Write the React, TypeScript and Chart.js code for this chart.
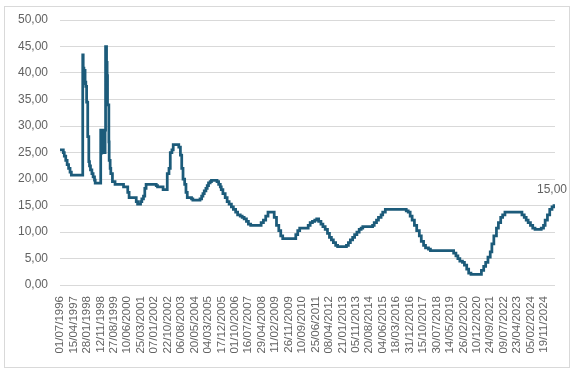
import { useEffect, useRef } from "react";
import { Chart, registerables } from "chart.js";

Chart.register(...registerables);

const rateDates: string[] = [
  "1996-07-01", "1996-09-10", "1996-10-01", "1996-11-01", "1996-12-01", "1997-01-01", "1997-02-01", "1997-03-01",
  "1997-10-31", "1997-11-10", "1997-11-25", "1997-12-05", "1997-12-20", "1998-01-05", "1998-01-22", "1998-02-15",
  "1998-03-10", "1998-03-25", "1998-04-15", "1998-05-15", "1998-06-10", "1998-07-10", "1998-07-25",
  "1998-11-20", "1998-12-01", "1998-12-12", "1998-12-24", "1999-01-05", "1999-01-17", "1999-01-29", "1999-02-10", "1999-02-22",
  "1999-03-04", "1999-03-25", "1999-04-06", "1999-04-15", "1999-05-13", "1999-05-20", "1999-06-10", "1999-06-24",
  "1999-07-29", "1999-09-23", "2000-03-23", "2000-06-21", "2000-07-20", "2000-12-20", "2001-01-18", "2001-03-22",
  "2001-04-19", "2001-05-24", "2001-06-21", "2001-07-19", "2002-02-21", "2002-03-21", "2002-07-18", "2002-10-15",
  "2002-11-21", "2002-12-19", "2003-01-23", "2003-02-20", "2003-06-19", "2003-07-24", "2003-08-21", "2003-09-18",
  "2003-10-23", "2003-11-20", "2003-12-18", "2004-03-18", "2004-04-15", "2004-09-16", "2004-10-21", "2004-11-18",
  "2004-12-16", "2005-01-20", "2005-02-17", "2005-03-17", "2005-04-21", "2005-05-19", "2005-09-15", "2005-10-20",
  "2005-11-24", "2005-12-15", "2006-01-19", "2006-03-09", "2006-04-20", "2006-06-01", "2006-07-20", "2006-08-31",
  "2006-10-19", "2006-11-30", "2007-01-25", "2007-03-08", "2007-04-19", "2007-06-07", "2007-07-19", "2007-09-06",
  "2008-04-17", "2008-06-05", "2008-07-24", "2008-09-11", "2009-01-22", "2009-03-12", "2009-04-30", "2009-06-11",
  "2009-07-23", "2010-04-29", "2010-06-10", "2010-07-22", "2011-01-20", "2011-03-03", "2011-04-21", "2011-06-09",
  "2011-07-21", "2011-09-01", "2011-10-20", "2011-12-01", "2012-01-19", "2012-03-08", "2012-04-19", "2012-05-31",
  "2012-07-12", "2012-08-30", "2012-10-11", "2013-04-18", "2013-05-30", "2013-07-11", "2013-08-29", "2013-10-10",
  "2013-11-28", "2014-01-16", "2014-02-27", "2014-04-03", "2014-10-30", "2014-12-04", "2015-01-22", "2015-03-05",
  "2015-04-30", "2015-06-04", "2015-07-30", "2016-10-20", "2016-12-01", "2017-01-12", "2017-02-23", "2017-04-13",
  "2017-06-01", "2017-07-27", "2017-09-07", "2017-10-26", "2017-12-07", "2018-02-08", "2018-03-22", "2019-08-01",
  "2019-09-19", "2019-10-31", "2019-12-12", "2020-02-06", "2020-03-19", "2020-05-07", "2020-06-18", "2020-08-06",
  "2021-03-18", "2021-05-06", "2021-06-17", "2021-08-05", "2021-09-23", "2021-10-28", "2021-12-09", "2022-02-03",
  "2022-03-17", "2022-05-05", "2022-06-16", "2022-08-04", "2023-08-03", "2023-09-21", "2023-11-02", "2023-12-14",
  "2024-02-01", "2024-03-21", "2024-05-09", "2024-09-19", "2024-11-07", "2024-12-12", "2025-01-30", "2025-03-20",
  "2025-05-08", "2025-06-19", "2025-07-11",
];

const rateValues: number[] = [
  25.5, 25.0, 24.3, 23.5, 22.7, 22.0, 21.3, 20.75,
  43.4, 40.9, 38.0, 40.5, 38.3, 37.5, 34.5, 28.0,
  23.3, 22.5, 21.7, 21.0, 20.4, 19.8, 19.2,
  29.2, 24.9, 29.2, 25.0, 29.2, 25.0, 29.2, 25.0, 29.2,
  45.0, 42.0, 39.5, 34.0, 27.0, 23.5, 22.0, 21.0,
  19.5, 19.0, 18.5, 17.5, 16.5, 15.75, 15.25, 15.75,
  16.25, 16.75, 18.25, 19.0, 18.75, 18.5, 18.0, 21.0,
  22.0, 25.0, 25.5, 26.5, 26.0, 24.5, 22.0, 20.0,
  19.0, 17.5, 16.5, 16.25, 16.0, 16.25, 16.75, 17.25,
  17.75, 18.25, 18.75, 19.25, 19.5, 19.75, 19.5, 19.0,
  18.5, 18.0, 17.25, 16.5, 15.75, 15.25, 14.75, 14.25,
  13.75, 13.25, 13.0, 12.75, 12.5, 12.0, 11.5, 11.25,
  11.75, 12.25, 13.0, 13.75, 12.75, 11.25, 10.25, 9.25,
  8.75, 9.5, 10.25, 10.75, 11.25, 11.75, 12.0, 12.25,
  12.5, 12.0, 11.5, 11.0, 10.5, 9.75, 9.0, 8.5,
  8.0, 7.5, 7.25, 7.5, 8.0, 8.5, 9.0, 9.5,
  10.0, 10.5, 10.75, 11.0, 11.25, 11.75, 12.25, 12.75,
  13.25, 13.75, 14.25, 14.0, 13.75, 13.0, 12.25, 11.25,
  10.25, 9.25, 8.25, 7.5, 7.0, 6.75, 6.5, 6.0,
  5.5, 5.0, 4.5, 4.25, 3.75, 3.0, 2.25, 2.0,
  2.75, 3.5, 4.25, 5.25, 6.25, 7.75, 9.25, 10.75,
  11.75, 12.75, 13.25, 13.75, 13.25, 12.75, 12.25, 11.75,
  11.25, 10.75, 10.5, 10.75, 11.25, 12.25, 13.25, 14.25,
  14.75, 15.0, 15.0,
];

const tickLabels: string[] = [
  "01/07/1996", "15/04/1997", "28/01/1998", "12/11/1998", "27/08/1999", "10/06/2000", "25/03/2001",
  "07/01/2002", "22/10/2002", "06/08/2003", "20/05/2004", "04/03/2005", "17/12/2005", "01/10/2006",
  "16/07/2007", "29/04/2008", "11/02/2009", "26/11/2009", "10/09/2010", "25/06/2011", "08/04/2012",
  "21/01/2013", "05/11/2013", "20/08/2014", "04/06/2015", "18/03/2016", "31/12/2016", "15/10/2017",
  "30/07/2018", "14/05/2019", "26/02/2020", "10/12/2020", "24/09/2021", "09/07/2022", "23/04/2023",
  "05/02/2024", "19/11/2024",
];

const lastLabel = "15,00";

const START = Date.UTC(1996, 6, 1);
const DAY = 86400000;
const isoDay = (s: string) => {
  const [y, m, d] = s.split("-").map(Number);
  return Math.round((Date.UTC(y, m - 1, d) - START) / DAY);
};
const brDay = (s: string) => {
  const [d, m, y] = s.split("/").map(Number);
  return Math.round((Date.UTC(y, m - 1, d) - START) / DAY);
};

const TEXT = "#626262";
const LINE = "#1c5b7a";

export default function App() {
  const ref = useRef<HTMLCanvasElement | null>(null);

  useEffect(() => {
    if (!ref.current) return;
    const points = rateDates.map((d, i) => ({ x: isoDay(d), y: rateValues[i] }));
    const tickDays = tickLabels.map(brDay);
    const fontFamily = "'Liberation Sans', Arial, sans-serif";

    const lastLabelPlugin = {
      id: "lastLabel",
      afterDatasetsDraw(chart: any) {
        const meta = chart.getDatasetMeta(0);
        const el = meta.data[meta.data.length - 1];
        if (!el) return;
        const ctx = chart.ctx;
        ctx.save();
        ctx.font = `12px ${fontFamily}`;
        ctx.fillStyle = TEXT;
        ctx.textAlign = "center";
        ctx.textBaseline = "alphabetic";
        ctx.fillText(lastLabel, el.x - 3, el.y - 13);
        ctx.restore();
      },
    };

    const chart = new Chart(ref.current, {
      type: "line",
      data: {
        datasets: [
          {
            data: points,
            stepped: true,
            borderColor: LINE,
            borderWidth: 2.75,
            pointRadius: 0,
            fill: false,
          },
        ],
      },
      options: {
        animation: false,
        responsive: false,
        maintainAspectRatio: false,
        layout: { padding: { top: 20, right: 24, left: 0, bottom: 0 } },
        plugins: { legend: { display: false }, tooltip: { enabled: false } },
        scales: {
          x: {
            type: "linear",
            min: 0,
            max: isoDay(rateDates[rateDates.length - 1]),
            afterBuildTicks: (scale: any) => {
              scale.ticks = tickDays.map((v) => ({ value: v }));
            },
            afterFit: (scale: any) => {
              scale.height = 87;
            },
            grid: { display: false, drawTicks: false },
            border: { display: false },
            ticks: {
              autoSkip: false,
              maxRotation: 90,
              minRotation: 90,
              padding: 11,
              color: TEXT,
              font: { family: fontFamily, size: 11.5 },
              callback: (_v: any, i: number) => tickLabels[i],
            },
          },
          y: {
            min: 0,
            max: 50,
            afterFit: (scale: any) => {
              scale.width = 60;
            },
            grid: { color: "#d9d9d9", lineWidth: 1, drawTicks: false },
            border: { display: false },
            ticks: {
              stepSize: 5,
              padding: 12,
              color: TEXT,
              font: { family: fontFamily, size: 12 },
              callback: (v: any) => Number(v).toFixed(2).replace(".", ","),
            },
          },
        },
      },
      plugins: [lastLabelPlugin],
    } as any);

    return () => chart.destroy();
  }, []);

  return (
    <div style={{ position: "fixed", left: 0, top: 0, width: 579, height: 372, background: "#fff" }}>
      <div
        style={{
          position: "absolute",
          left: 4,
          top: 6,
          width: 566,
          height: 362,
          border: "1px solid #d9d9d9",
          boxSizing: "border-box",
        }}
      />
      <canvas ref={ref} width={579} height={372} style={{ position: "absolute", left: 0, top: 0, width: 579, height: 372 }} />
    </div>
  );
}
